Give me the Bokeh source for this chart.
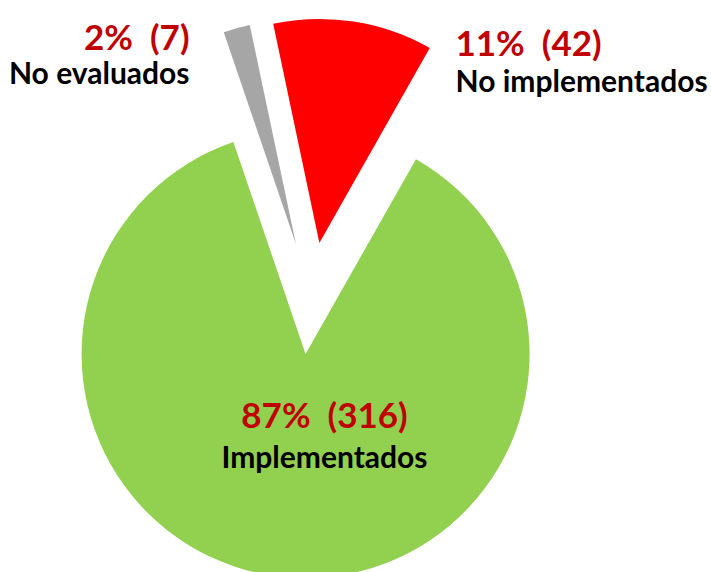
import math
from bokeh.plotting import figure
from bokeh.models import Range1d
from bokeh.embed import file_html
from bokeh.resources import INLINE
from bokeh.core.properties import value

# ---- data ----
categories = ["No implementados", "Implementados", "No evaluados"]
counts = [42, 316, 7]
percent_labels = ["11%", "87%", "2%"]
colors = ["#FF0000", "#92D050", "#A6A6A6"]

# ---- layout / style ----
W, H = 711, 572
CX, CY = 310.3, 297.8        # pie centre (screen px from top-left)
R = 224.0                    # radius in px
EXPLODE = 0.25               # explosion as fraction of radius
FIRST = -11.9                # first slice angle, degrees clockwise from 12 o'clock

# label anchors (screen px): x, baseline of line 1, baseline of line 2, align
label_pos = {
    "No implementados": (455, 41, 79, "left"),
    "Implementados": (324, 413, 455, "center"),
    "No evaluados": (189, 35, 71, "right"),
}

p = figure(width=W, height=H,
           x_range=Range1d(-CX, W - CX), y_range=Range1d(CY - H, CY),
           output_backend="svg", toolbar_location=None, min_border=0)
p.axis.visible = False
p.grid.visible = False
p.outline_line_color = None
p.background_fill_color = "white"
p.border_fill_color = "white"

total = sum(counts)
xs, ys, sa, ea = [], [], [], []
acc = FIRST
for c in counts:
    span = 360.0 * c / total
    t1, t2 = acc, acc + span
    mid = math.radians((t1 + t2) / 2)
    xs.append(EXPLODE * R * math.sin(mid))
    ys.append(EXPLODE * R * math.cos(mid))
    sa.append(math.radians(90 - t2))
    ea.append(math.radians(90 - t1))
    acc = t2

p.wedge(x=xs, y=ys, radius=R, start_angle=sa, end_angle=ea,
        fill_color=colors, line_color=None)

NB = "\u00a0"
for cat, cnt, pct in zip(categories, counts, percent_labels):
    sx, b1, b2, align = label_pos[cat]
    p.text(x=[sx - CX], y=[CY - b1], text=[f"{pct}{NB}{NB}({cnt})"],
           text_font=value("Lato"), text_font_style="bold",
           text_font_size="35px", text_color="#C00000",
           text_align=align, text_baseline="alphabetic")
    p.text(x=[sx - CX], y=[CY - b2], text=[cat],
           text_font=value("Lato"), text_font_style="bold",
           text_font_size="30px", text_color="black",
           text_align=align, text_baseline="alphabetic")

open("out.html", "w").write(file_html(p, INLINE))
